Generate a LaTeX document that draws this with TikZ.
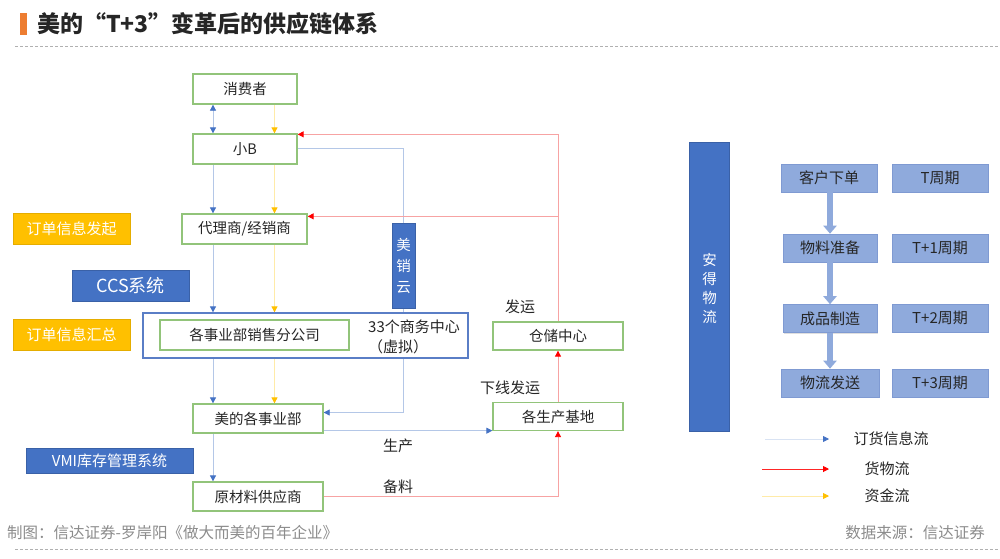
\documentclass[tikz,border=0pt]{standalone}
\usepackage{fontspec}
\setmainfont{Noto Sans CJK SC}
\usetikzlibrary{arrows.meta,calc,shadows}
\definecolor{gbord}{HTML}{92C47A}
\definecolor{cblue}{HTML}{4472C4}
\definecolor{hubb}{HTML}{5A7EC6}
\definecolor{corange}{HTML}{FFC000}
\definecolor{lblue}{HTML}{B4C7E7}
\definecolor{ablue}{HTML}{4472C4}
\definecolor{lred}{HTML}{F7A3A3}
\definecolor{ared}{HTML}{FF0000}
\definecolor{lyel}{HTML}{FFEBA8}
\definecolor{ayel}{HTML}{FFC000}
\definecolor{sfill}{HTML}{8FAADC}
\definecolor{sbord}{HTML}{7F9AD2}
\definecolor{txt}{HTML}{262626}
\definecolor{gtxt}{HTML}{8C8C8C}
\definecolor{dashc}{HTML}{B0B0B0}
\definecolor{tbar}{HTML}{ED7D31}
\pgfdeclarelayer{bgfill}
\pgfdeclarelayer{lines}
\pgfsetlayers{bgfill,lines,main}
\begin{document}
\begin{tikzpicture}[x=1pt,y=-1pt,
  gbox/.style={draw=gbord, line width=1.3pt, fill=white, minimum height=30pt, inner sep=0pt, text=txt, font=\fontsize{14.5}{16}\selectfont},
  obox/.style={fill=corange, draw=corange!90!black, line width=0.6pt, minimum width=117pt, minimum height=31pt, inner sep=0pt, text=white, font=\fontsize{15}{17}\selectfont},
  bbox/.style={fill=cblue, draw=cblue!85!black, line width=0.6pt, inner sep=0pt, text=white},
  sbox/.style={fill=sfill, draw=sbord, line width=0.6pt, minimum height=28pt, inner sep=0pt, text=txt, font=\fontsize{15}{17}\selectfont, drop shadow={shadow xshift=1pt, shadow yshift=-1pt, opacity=0.25}},
  lbl/.style={text=txt, inner sep=0pt, font=\fontsize{15}{17}\selectfont},
  flowB/.style={draw=lblue, line width=0.8pt, -{Triangle[length=6pt,width=6pt,color=ablue,fill=ablue]}},
  flowR/.style={draw=lred, line width=0.9pt, -{Triangle[length=6pt,width=6pt,color=ared,fill=ared]}},
  flowY/.style={draw=lyel, line width=0.8pt, -{Triangle[length=6pt,width=6pt,color=ayel,fill=ayel]}},
  stepar/.style={draw=sfill, line width=6pt, -{Triangle[length=8pt,width=13pt,color=sfill,fill=sfill]}},
  dashline/.style={draw=dashc, line width=0.7pt, dash pattern=on 3pt off 2pt}
]
\begin{pgfonlayer}{bgfill}
\fill[white] (0,0) rectangle (1000,558);
\end{pgfonlayer}
\useasboundingbox (0,0) rectangle (1000,558);

% title
\fill[tbar] (20,13) rectangle (27,35);
\node[anchor=west, inner sep=0pt, text=txt, font=\fontsize{23}{25}\selectfont\bfseries] (title) at (37,24) {美的“T+3”变革后的供应链体系};
\coordinate (d1a) at (15,46); \coordinate (d1b) at (1000,46);
\draw[dashline] (d1a) -- (d1b);
\coordinate (d2a) at (15,549); \coordinate (d2b) at (1000,549);
\draw[dashline] (d2a) -- (d2b);
\node[anchor=west, inner sep=0pt, text=gtxt, font=\fontsize{15.5}{17}\selectfont] (foot1) at (7,533) {制图：信达证券-罗岸阳《做大而美的百年企业》};
\node[anchor=east, inner sep=0pt, text=gtxt, font=\fontsize{15.5}{17}\selectfont] (foot2) at (985,533) {数据来源：信达证券};

% main boxes
\node[gbox, minimum width=104pt] (cons) at (245,89) {消费者};
\node[gbox, minimum width=104pt] (smb) at (245,149) {小B};
\node[gbox, minimum width=125pt] (agent) at (244.5,229) {代理商/经销商};
\node[draw=hubb, line width=1.3pt, fill=white, minimum width=325pt, minimum height=45pt, inner sep=0pt] (hub) at (305.5,335.5) {};
\node[gbox, minimum width=189pt] (sales) at (254.5,335) {各事业部销售分公司};
\node[lbl] (center33) at (414,327) {33个商务中心};
\node[lbl] (virt) at (398,347) {（虚拟）};
\node[gbox, minimum width=130pt, minimum height=29pt] (dept) at (258,418.5) {美的各事业部};
\node[gbox, minimum width=130pt, minimum height=29pt] (raw) at (258,496.5) {原材料供应商};
\node[gbox, minimum width=130pt, minimum height=28pt] (store) at (558,336) {仓储中心};
\node[gbox, minimum width=130pt, minimum height=28pt] (base) at (558,416.5) {各生产基地};

\node[bbox, minimum width=23pt, minimum height=85pt, align=center, font=\fontsize{14.5}{21}\selectfont] (cloud) at (403.5,265.5) {美\\销\\云};
\node[bbox, minimum width=40pt, minimum height=289pt] (andes) at (709.5,286.5) {};
\node[text=white, align=center, inner sep=0pt, font=\fontsize{14.5}{19}\selectfont] (andest) at (709.5,288) {安\\得\\物\\流};

% left labels
\node[obox] (initiate) at (71.5,229) {订单信息发起};
\node[bbox, minimum width=117pt, minimum height=31pt, font=\fontsize{18}{20}\selectfont] (ccs) at (130.5,286) {CCS系统};
\node[obox] (gather) at (71.5,335) {订单信息汇总};
\node[bbox, minimum width=167pt, minimum height=25pt, font=\fontsize{15}{17}\selectfont] (vmi) at (109.5,460.5) {VMI库存管理系统};

% flow labels
\node[lbl] (l_fy) at (520,307) {发运};
\node[lbl] (l_xx) at (510,388) {下线发运};
\node[lbl] (l_sc) at (398,446) {生产};
\node[lbl] (l_bl) at (398,487) {备料};

% connectors
\coordinate (bx) at (213,0);
\coordinate (yx) at (274.5,0);
\begin{pgfonlayer}{lines}
% blue verticals
\draw[flowB, {Triangle[length=6pt,width=6pt,color=ablue,fill=ablue]}-{Triangle[length=6pt,width=6pt,color=ablue,fill=ablue]}] (bx |- cons.south) -- (bx |- smb.north);
\draw[flowB] (bx |- smb.south) -- (bx |- agent.north);
\draw[flowB] (bx |- agent.south) -- (bx |- hub.north);
\draw[flowB] (bx |- hub.south) -- (bx |- dept.north);
\draw[flowB] (bx |- dept.south) -- (bx |- raw.north);
% yellow verticals
\draw[flowY] (yx |- cons.south) -- (yx |- smb.north);
\draw[flowY] (yx |- smb.south) -- (yx |- agent.north);
\draw[flowY] (yx |- agent.south) -- (yx |- hub.north);
\draw[flowY] (yx |- hub.south) -- (yx |- dept.north);
% blue via 美销云
\coordinate (dE) at ([yshift=6pt]dept.east);
\draw[flowB] ([yshift=1pt]smb.east) -| (cloud.north) -- (cloud.south) |- (dE);
% blue dept -> base
\coordinate (dB) at ([yshift=3pt]dept.south east);
\draw[flowB] (dB) -- (base.west |- dB);
% red
\coordinate (r1) at ([yshift=-1pt]smb.north east);
\coordinate (r2) at ([yshift=-3pt]agent.north east);
\draw[flowR] (store.north) |- (r1);
\draw[flowR] (store.north |- r2) -- (r2);
\draw[flowR] (base.north) -- (store.south);
\draw[flowR] (raw.east) -| (base.south);
\end{pgfonlayer}

% T+3 steps
\node[sbox, minimum width=96pt] (s1) at (829,178) {客户下单};
\node[sbox, minimum width=96pt] (t1) at (940,178) {T周期};
\node[sbox, minimum width=94pt] (s2) at (830,248) {物料准备};
\node[sbox, minimum width=96pt] (t2) at (940,248) {T+1周期};
\node[sbox, minimum width=94pt] (s3) at (830,318.5) {成品制造};
\node[sbox, minimum width=96pt] (t3) at (940,318) {T+2周期};
\node[sbox, minimum width=98pt] (s4) at (830,383) {物流发送};
\node[sbox, minimum width=96pt] (t4) at (940,383) {T+3周期};
\coordinate (ax) at (830,0);
\draw[stepar] (ax |- s1.south) -- (ax |- s2.north);
\draw[stepar] (ax |- s2.south) -- (ax |- s3.north);
\draw[stepar] (ax |- s3.south) -- (ax |- s4.north);

% legend
\coordinate (la1) at (765,439); \coordinate (lb1) at (829,439);
\coordinate (la2) at (762,469); \coordinate (lb2) at (829,469);
\coordinate (la3) at (762,496); \coordinate (lb3) at (829,496);
\draw[flowB, draw=lblue!50] (la1) -- (lb1);
\draw[flowR, draw=ared!85] (la2) -- (lb2);
\draw[flowY] (la3) -- (lb3);
\node[lbl] (leg1) at (891,439) {订货信息流};
\node[lbl] (leg2) at (887,469) {货物流};
\node[lbl] (leg3) at (887,496) {资金流};
\end{tikzpicture}
\end{document}
